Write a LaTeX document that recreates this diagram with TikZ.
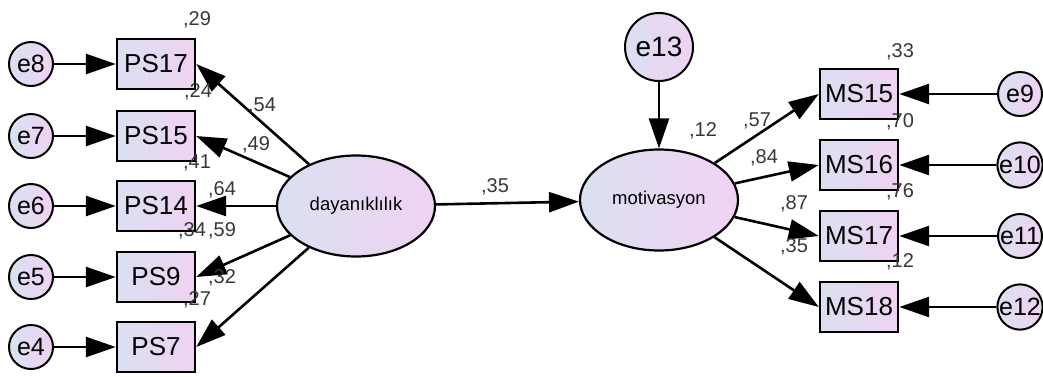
\documentclass[tikz,border=0pt]{standalone}
\usepackage{fontspec}
\setmainfont{Liberation Sans}
\usepackage{tikz}
\usetikzlibrary{arrows.meta, shapes.geometric}

\definecolor{fillL}{RGB}{218,224,242}
\definecolor{fillR}{RGB}{240,210,242}
\definecolor{estcol}{RGB}{55,55,55}

\begin{document}
\begin{tikzpicture}[x=1pt, y=-1pt,
    obs/.style={draw, line width=2.4pt, left color=fillL, right color=fillR,
      minimum width=78pt, minimum height=50pt, inner sep=0pt,
      font=\fontsize{26}{30}\selectfont},
    err/.style={draw, circle, line width=2pt, left color=fillL, right color=fillR,
      minimum size=44pt, inner sep=0pt, font=\fontsize{25}{28}\selectfont},
    lat/.style={draw, ellipse, line width=2.2pt, left color=fillL, right color=fillR,
      minimum width=158pt, minimum height=101pt, inner sep=0pt,
      font=\fontsize{18.5}{22}\selectfont},
    est/.style={text=estcol, inner sep=0pt, font=\fontsize{20}{24}\selectfont},
    pth/.style={line width=2.6pt, -{Triangle[length=30pt, width=20pt]}}]

    \useasboundingbox (0, 0) rectangle (1043, 376);

    % Lewa strona
    \node[err] (e8) at (31, 64) {e8};

    \node[err] (e7) at (31, 136) {e7};

    \node[err] (e6) at (31, 206) {e6};

    \node[err] (e5) at (31, 277) {e5};

    \node[err] (e4) at (31, 347) {e4};

    \node[obs] (PS17) at (156, 64) {PS17};

    \node[obs] (PS15) at (156, 136) {PS15};

    \node[obs] (PS14) at (156, 206) {PS14};

    \node[obs] (PS9) at (156, 277) {PS9};

    \node[obs] (PS7) at (156, 347) {PS7};

    \node[lat] (dayan) at (356, 206) {dayanıklılık};



    % Prawa strona
    \node[lat] (motiv) at (659, 200) {motivasyon};

    \node[err, minimum size=68pt, font=\fontsize{28}{30}\selectfont] (e13) at (659, 47) {e13};

    \node[obs] (MS15) at (859, 94) {MS15};

    \node[obs] (MS16) at (859, 165) {MS16};

    \node[obs] (MS17) at (859, 236) {MS17};

    \node[obs] (MS18) at (859, 307) {MS18};

    \node[err] (e9) at (1020, 94) {e9};

    \node[err] (e10) at (1020, 165) {e10};

    \node[err] (e11) at (1020, 236) {e11};

    \node[err] (e12) at (1020, 307) {e12};



    % Strzalki
    \draw[pth] (e8) -- (PS17);

    \draw[pth] (e7) -- (PS15);

    \draw[pth] (e6) -- (PS14);

    \draw[pth] (e5) -- (PS9);

    \draw[pth] (e4) -- (PS7);

    \draw[pth] (dayan) -- (PS17.east);

    \draw[pth] (dayan) -- (PS15.east);

    \draw[pth] (dayan) -- (PS14.east);

    \draw[pth] (dayan) -- (PS9.east);

    \draw[pth] (dayan) -- (PS7.east);

    \draw[pth] (dayan) -- (motiv);

    \draw[pth] (e13) -- (motiv);

    \draw[pth] (motiv) -- (MS15.west);

    \draw[pth] (motiv) -- (MS16.west);

    \draw[pth] (motiv) -- (MS17.west);

    \draw[pth] (motiv) -- (MS18.west);

    \draw[pth] (e9) -- (MS15);

    \draw[pth] (e10) -- (MS16);

    \draw[pth] (e11) -- (MS17);

    \draw[pth] (e12) -- (MS18);



    % Oznaczenia
    \node[est] (r29) at (197, 20) {,29};

    \node[est] (r24) at (198, 92) {,24};

    \node[est] (r41) at (197, 163) {,41};

    \node[est] (r34) at (192, 231) {,34};

    \node[est] (r27) at (197, 300) {,27};

    \node[est] (w54) at (262, 106) {,54};

    \node[est] (w49) at (256, 145) {,49};

    \node[est] (w64) at (222, 190) {,64};

    \node[est] (w59) at (222, 231) {,59};

    \node[est] (w32) at (222, 278) {,32};

    \node[est] (w35) at (495, 187) {,35};

    \node[est] (r12m) at (703, 131) {,12};

    \node[est] (w57) at (757, 121) {,57};

    \node[est] (w84) at (764, 158) {,84};

    \node[est] (w87) at (794, 204) {,87};

    \node[est] (w35m) at (794, 247) {,35};

    \node[est] (r33) at (900, 52) {,33};

    \node[est] (r70) at (900, 122) {,70};

    \node[est] (r76) at (900, 192) {,76};

    \node[est] (r12) at (900, 262) {,12};
  \end{tikzpicture}
\end{document}
